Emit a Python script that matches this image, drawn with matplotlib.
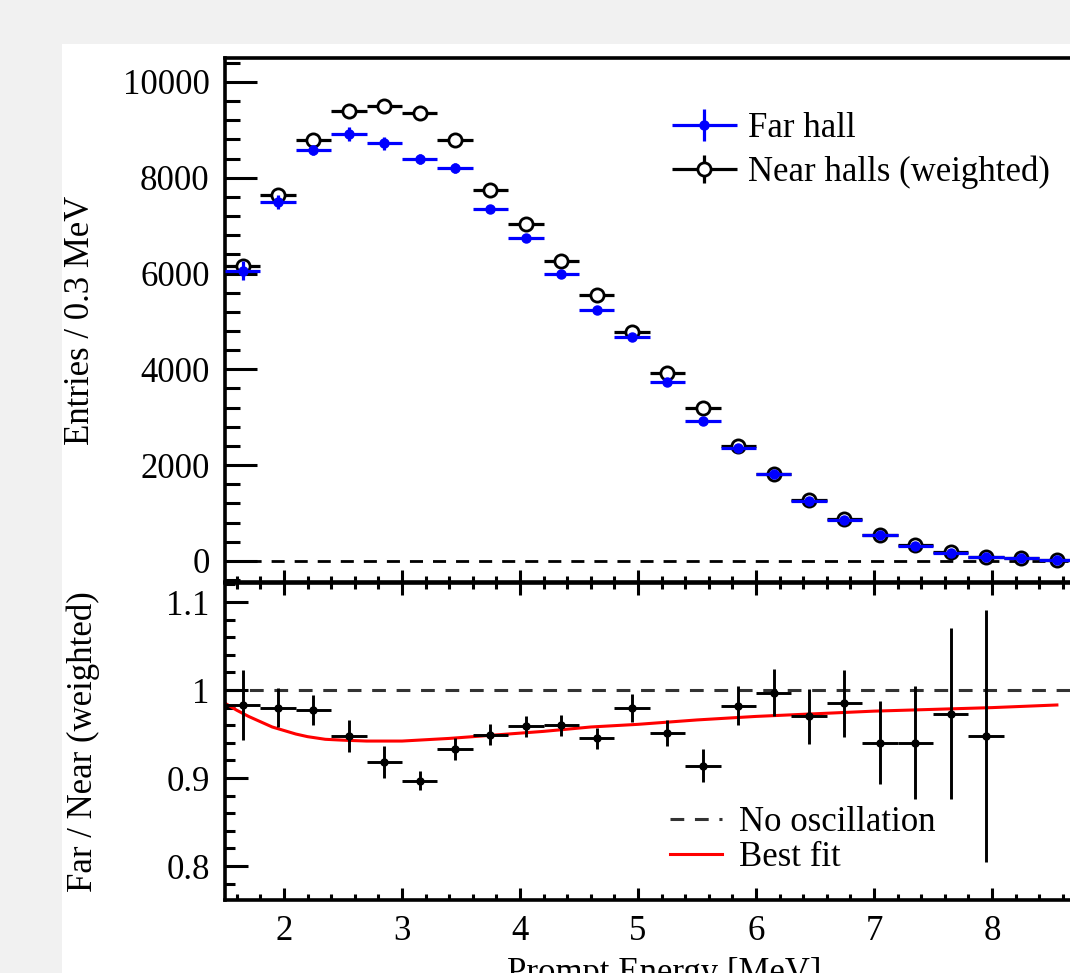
import numpy as np
import matplotlib.pyplot as plt
from matplotlib.patches import Rectangle
from matplotlib.lines import Line2D
from matplotlib.ticker import MultipleLocator, FuncFormatter
from matplotlib.legend_handler import HandlerErrorbar

plt.rcParams['font.family'] = ['Liberation Serif', 'DejaVu Serif']
plt.rcParams['font.size'] = 25

# bin centres (0.3 MeV bins)
energy = [1.65, 1.95, 2.25, 2.55, 2.85, 3.15, 3.45, 3.75, 4.05, 4.35, 4.65, 4.95,
          5.25, 5.55, 5.85, 6.15, 6.45, 6.75, 7.05, 7.35, 7.65, 7.95, 8.25, 8.55]
far = [6060, 7490, 8580, 8910, 8715, 8390, 8200, 7350, 6740, 5995, 5240, 4665,
       3730, 2925, 2360, 1810, 1255, 850, 540, 318, 172, 88, 55, 20]
far_err = [200, 140, 110, 140, 130, 100, 100, 90, 90, 80, 80, 70,
           70, 60, 50, 40, 40, 30, 25, 20, 15, 10, 8, 5]
near = [6150, 7650, 8790, 9400, 9500, 9360, 8790, 7750, 7030, 6265, 5555, 4770,
        3920, 3190, 2390, 1825, 1270, 865, 550, 325, 178, 92, 57, 22]
near_err = [60, 50, 50, 50, 50, 50, 50, 45, 45, 40, 40, 35,
            35, 30, 25, 20, 20, 15, 10, 8, 6, 5, 4, 3]
x_ticks = [2, 3, 4, 5, 6, 7, 8]

# ratio panel
ratio_e = energy[:22]
ratio = [0.983, 0.980, 0.977, 0.948, 0.918, 0.897, 0.933, 0.949, 0.959, 0.960, 0.945,
         0.980, 0.951, 0.914, 0.982, 0.997, 0.970, 0.985, 0.940, 0.940, 0.973, 0.948]
ratio_err = [0.040, 0.022, 0.017, 0.018, 0.018, 0.011, 0.012, 0.012, 0.012, 0.012, 0.012,
             0.016, 0.015, 0.019, 0.022, 0.027, 0.031, 0.038, 0.047, 0.064, 0.097, 0.143]

# best fit curve
fit_e = [1.5, 1.6, 1.7, 1.8, 1.9, 2.0, 2.1, 2.2, 2.35, 2.5, 2.7, 3.0, 3.4, 3.8,
         4.2, 4.6, 5.0, 5.5, 6.0, 6.5, 7.0, 7.5, 8.0, 8.55]
fit_r = [0.985, 0.977, 0.970, 0.964, 0.958, 0.954, 0.950, 0.947, 0.944, 0.943, 0.942,
         0.942, 0.945, 0.949, 0.953, 0.958, 0.961, 0.966, 0.970, 0.973, 0.976, 0.978,
         0.980, 0.983]

W, H = 1070, 973
fig = plt.figure(figsize=(W / 100, H / 100), dpi=100, facecolor='#f1f1f1')
fig.patches.append(Rectangle((62 / W, 0), 1, 1 - 44 / H, transform=fig.transFigure,
                             facecolor='white', edgecolor='none', zorder=-1))

# axes run past the right edge of the picture (cropped like the original)
right_px = 1130
left = 225 / W
width = (right_px - 225) / W
ax1 = fig.add_axes([left, 1 - 582 / H, width, 524 / H])
ax2 = fig.add_axes([left, 1 - 900 / H, width, 317 / H])

for ax in (ax1, ax2):
    for s in ax.spines.values():
        s.set_linewidth(2.6)
    ax.set_xlim(1.5, 1.5 + (right_px - 225) / 118)
    ax.set_xticks(x_ticks)
    ax.xaxis.set_minor_locator(MultipleLocator(0.2))
    ax.tick_params(which='both', direction='in', width=2.2, right=True, pad=11)
    ax.tick_params(axis='x', which='major', length=8.5)
    ax.tick_params(axis='x', which='minor', length=4.3)

# top panel
ax1.set_ylim(-440, 10500)
ax1.yaxis.set_major_locator(MultipleLocator(2000))
ax1.yaxis.set_minor_locator(MultipleLocator(400))
ax1.tick_params(axis='y', which='major', length=23)
ax1.tick_params(axis='y', which='minor', length=11)
ax1.tick_params(which='both', top=False, labelbottom=False)

ax1.axhline(0, color='black', lw=2.0, ls=(0, (4.7, 3.6)), zorder=1)
h_near = ax1.errorbar(energy, near, xerr=0.15, yerr=near_err, fmt='o', ms=9.5,
                      mfc='white', mec='black', mew=2.0, ecolor='black',
                      elinewidth=2.3, capsize=0, zorder=2)
h_far = ax1.errorbar(energy, far, xerr=0.15, yerr=far_err, fmt='o', ms=6.5,
                     color='#0000ff', ecolor='#0000ff', elinewidth=2.3,
                     capsize=0, zorder=3)
ax1.legend([h_far, h_near], ['Far hall', 'Near halls (weighted)'],
           handler_map={h_far: HandlerErrorbar(xerr_size=0.93, yerr_size=0.45),
                        h_near: HandlerErrorbar(xerr_size=0.93, yerr_size=0.4)},
           loc='center left', bbox_to_anchor=(672 / W, 1 - 150.5 / H),
           bbox_transform=fig.transFigure, frameon=False, borderpad=0,
           borderaxespad=0, handlelength=1.87, handletextpad=0.32,
           labelspacing=0.3)
ax1.set_ylabel('Entries / 0.3 MeV')
ax1.yaxis.set_label_coords((97 - 225) / (right_px - 225), 0.5)

# ratio panel
ax2.set_ylim(0.7614, 1.1216)
ax2.yaxis.set_major_locator(MultipleLocator(0.1))
ax2.yaxis.set_minor_locator(MultipleLocator(0.02))
ax2.yaxis.set_major_formatter(FuncFormatter(lambda v, p: '%g' % round(v, 2)))
ax2.tick_params(axis='y', which='major', length=16.5)
ax2.tick_params(axis='y', which='minor', length=7.5)
ax2.tick_params(which='both', top=True)

ax2.axhline(1, color='#333333', lw=2.2, ls=(0, (4.5, 3.5)), zorder=1)
ax2.plot(fit_e, fit_r, color='red', lw=2.2, zorder=2)
ax2.errorbar(ratio_e, ratio, xerr=0.15, yerr=ratio_err, fmt='o', ms=5,
             color='black', ecolor='black', elinewidth=2.1, capsize=0, zorder=3)
leg_h = [Line2D([], [], color='#333333', lw=2.2, ls=(0, (4.5, 3.5))),
         Line2D([], [], color='red', lw=2.2)]
ax2.legend(leg_h, ['No oscillation', 'Best fit'], loc='center left',
           bbox_to_anchor=(670 / W, 1 - 840 / H), bbox_transform=fig.transFigure,
           frameon=False, borderpad=0, borderaxespad=0, handlelength=1.5,
           handletextpad=0.5, labelspacing=0.04)
ax2.set_ylabel('Far / Near (weighted)')
ax2.yaxis.set_label_coords((100 - 225) / (right_px - 225), 0.5)
ax2.set_xlabel('Prompt Energy [MeV]', va='top')
ax2.xaxis.set_label_coords((664 - 225) / (right_px - 225), (900 - 957) / 317)

fig.savefig('out.png', dpi=100, facecolor=fig.get_facecolor())
